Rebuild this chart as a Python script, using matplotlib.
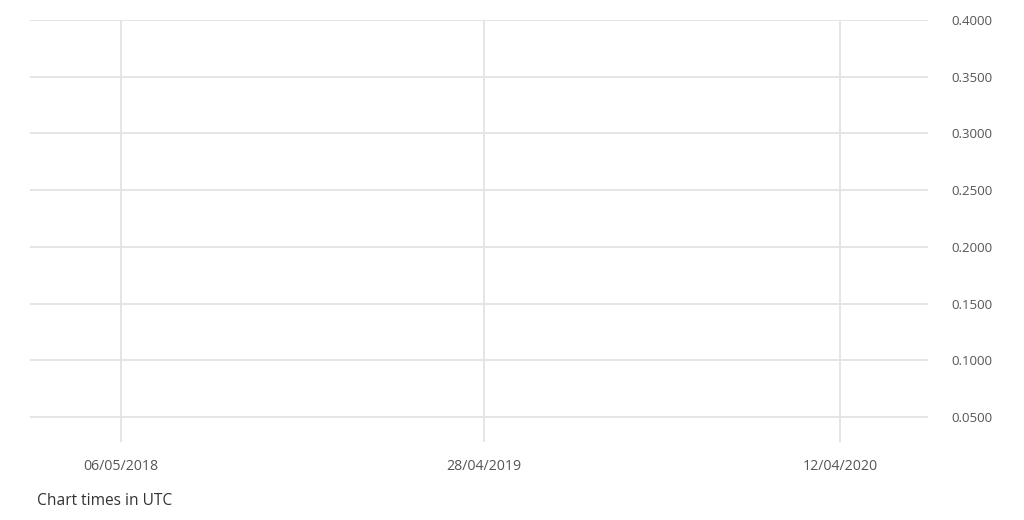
import pandas as pd
import matplotlib
matplotlib.use("Agg")
import matplotlib.pyplot as plt

# axis ticks (series itself is not visible)
date_ticks = ["2018-05-06", "2019-04-28", "2020-04-12"]
date_labels = ["06/05/2018", "28/04/2019", "12/04/2020"]
y_ticks = [0.05, 0.10, 0.15, 0.20, 0.25, 0.30, 0.35, 0.40]
x_range = ["2018-02-06", "2020-07-07"]
y_range = [0.028, 0.40]

plt.rcParams['font.family'] = ['Open Sans', 'DejaVu Sans']

fig = plt.figure(figsize=(10.24, 5.2), dpi=100)
ax = fig.add_axes([30 / 1024, 1 - 442 / 520, 898 / 1024, 422 / 520])

ax.set_xlim(pd.to_datetime(x_range[0]), pd.to_datetime(x_range[1]))
ax.set_ylim(*y_range)

ax.set_xticks(pd.to_datetime(date_ticks))
ax.set_xticklabels(date_labels)
ax.set_yticks(y_ticks)
ax.yaxis.set_major_formatter(matplotlib.ticker.FormatStrFormatter("%.4f"))
ax.yaxis.tick_right()

ax.grid(True, color="#e3e3e3", linewidth=1.3)
ax.set_axisbelow(True)
for s in ax.spines.values():
    s.set_visible(False)

ax.tick_params(axis="y", length=0, pad=17, labelsize=9.5, labelcolor="#555555")
ax.tick_params(axis="x", length=0, pad=12, labelsize=10.2, labelcolor="#555555")

fig.text(37 / 1024, 1 - 501 / 520, "Chart times in UTC", fontsize=11.2,
         color="#333333", va="center", ha="left")

fig.savefig("out.png", dpi=100, facecolor="white")
